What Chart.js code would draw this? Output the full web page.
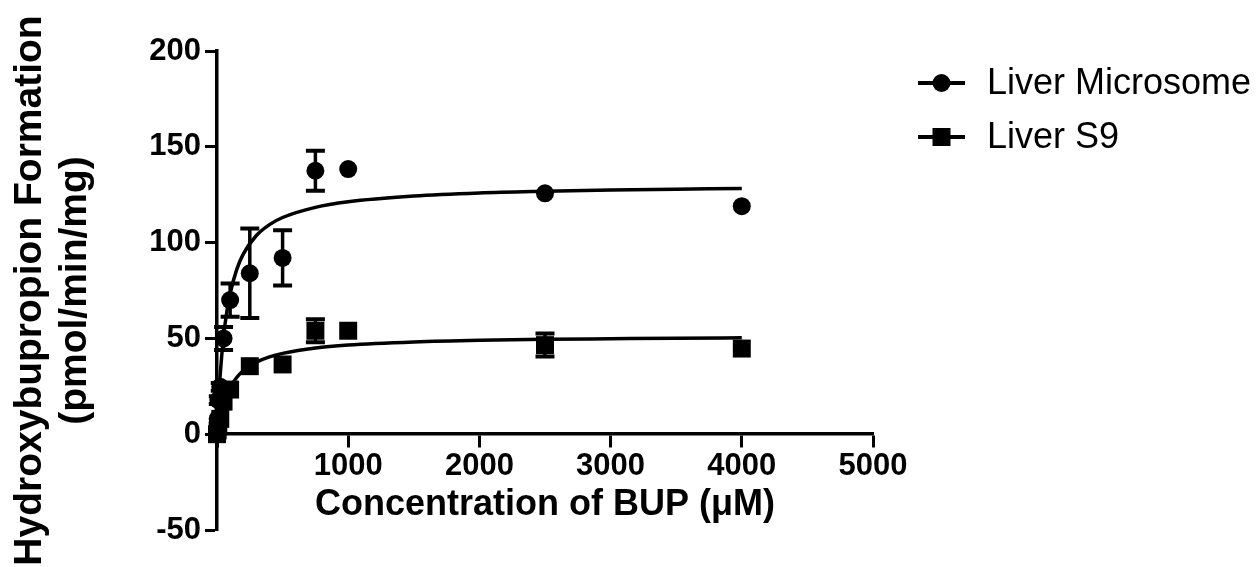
<!DOCTYPE html>
<html>
<head>
<meta charset="utf-8">
<script src="https://cdn.jsdelivr.net/npm/chart.js@4.4.0/dist/chart.umd.min.js"></script>
<style>
  html, body { margin: 0; padding: 0; background: #fff; }
</style>
</head>
<body>
<canvas id="grafico" width="1258" height="567"></canvas>
<script>
// --- datos ---
const concentraciones = [0, 5, 10, 25, 50, 100, 250, 500, 750, 1000, 2500, 4000];
const microsoma = [0, 8, 17.8, 24.7, 50, 70, 84, 92, 137.5, 138.4, 125.7, 119];
const microsomaErr = [0, 0, 2, 2, 6, 8.7, 23.3, 14.4, 10.5, 0, 0, 0];
const s9 = [0, 2, 4, 8, 17, 23.3, 35.5, 36.4, 54, 54, 46.5, 44.7];
const s9Err = [0, 0, 0, 0, 0, 0, 0, 0, 6, 0, 6, 0];

// curvas de ajuste (valores estimados sobre la imagen)
const curvaX = [0, 10, 25, 50, 75, 100, 150, 200, 300, 400, 500, 750, 1000, 1500, 2000, 2500, 3000, 3500, 4000];
const curvaMicrosoma = [0, 14.8, 31.6, 50.9, 64.0, 73.3, 85.9, 94.0, 103.7, 109.4, 113.1, 118.4, 121.3, 124.3, 125.9, 126.8, 127.5, 127.9, 128.3];
const curvaS9 = [0, 4.2, 9.4, 16.0, 20.7, 24.4, 29.6, 33.1, 37.6, 40.4, 42.2, 45.0, 46.5, 48.1, 49.0, 49.5, 49.8, 50.1, 50.3];

const ticksX = [0, 1000, 2000, 3000, 4000, 5000];
const ticksY = [-50, 0, 50, 100, 150, 200];

const etiquetas = ['Liver Microsome', 'Liver S9'];
const tituloX = 'Concentration of BUP (\u03bcM)';
const tituloY = ['Hydroxybupropion Formation', '(pmol/min/mg)'];

const negro = '#000000';
const fuente = "'Liberation Sans', Arial, Helvetica, sans-serif";

Chart.defaults.font.family = fuente;
Chart.defaults.color = negro;

const aPuntos = (xs, ys) => xs.map((x, i) => ({ x: x, y: ys[i] }));

// barras de error (media +/- DE)
const barrasError = {
    id: 'barrasError',
    afterDatasetsDraw(chart) {
        const { ctx, scales } = chart;
        const series = [microsomaErr, s9Err];
        ctx.save();
        ctx.strokeStyle = negro;
        series.forEach((errores, d) => {
            const datos = chart.data.datasets[d].data;
            datos.forEach((p, i) => {
                const e = errores[i];
                if (!e) return;
                const px = scales.x.getPixelForValue(p.x);
                const arriba = scales.y.getPixelForValue(p.y + e);
                const abajo = scales.y.getPixelForValue(p.y - e);
                ctx.lineWidth = 3.5;
                ctx.beginPath();
                ctx.moveTo(px, arriba);
                ctx.lineTo(px, abajo);
                ctx.stroke();
                ctx.lineWidth = 4;
                ctx.beginPath();
                ctx.moveTo(px - 9.5, arriba);
                ctx.lineTo(px + 9.5, arriba);
                ctx.moveTo(px - 9.5, abajo);
                ctx.lineTo(px + 9.5, abajo);
                ctx.stroke();
            });
        });
        ctx.restore();
    }
};

// leyenda estilo Prism: linea con simbolo
const leyenda = {
    id: 'leyenda',
    afterDraw(chart) {
        const { ctx } = chart;
        const filas = [
            { y: 83, estilo: 'circle' },
            { y: 137, estilo: 'rect' }
        ];
        ctx.save();
        ctx.fillStyle = negro;
        ctx.strokeStyle = negro;
        ctx.font = '36px ' + fuente;
        ctx.textBaseline = 'middle';
        filas.forEach((f, i) => {
            ctx.lineWidth = 4;
            ctx.beginPath();
            ctx.moveTo(918, f.y);
            ctx.lineTo(965, f.y);
            ctx.stroke();
            if (f.estilo === 'circle') {
                ctx.beginPath();
                ctx.arc(941.5, f.y, 9, 0, Math.PI * 2);
                ctx.fill();
            } else {
                ctx.fillRect(932.5, f.y - 9, 18, 18);
            }
            ctx.fillText(chart.data.datasets[i].label, 987, f.y + 1);
        });
        ctx.restore();
    }
};

new Chart(document.getElementById('grafico'), {
    type: 'scatter',
    data: {
        datasets: [
            {
                label: etiquetas[0],
                data: aPuntos(concentraciones, microsoma),
                pointStyle: 'circle',
                pointRadius: 9,
                backgroundColor: negro,
                borderWidth: 0,
                clip: false
            },
            {
                label: etiquetas[1],
                data: aPuntos(concentraciones, s9),
                pointStyle: 'rect',
                pointRadius: 12.7,
                backgroundColor: negro,
                borderWidth: 0,
                clip: false
            },
            {
                type: 'line',
                label: 'ajuste microsoma',
                data: aPuntos(curvaX, curvaMicrosoma),
                borderColor: negro,
                borderWidth: 3.5,
                pointRadius: 0,
                fill: false,
                cubicInterpolationMode: 'monotone'
            },
            {
                type: 'line',
                label: 'ajuste S9',
                data: aPuntos(curvaX, curvaS9),
                borderColor: negro,
                borderWidth: 3.5,
                pointRadius: 0,
                fill: false,
                cubicInterpolationMode: 'monotone'
            }
        ]
    },
    options: {
        responsive: false,
        animation: false,
        devicePixelRatio: 1,
        events: [],
        layout: { padding: { top: 51, right: 385, bottom: 37, left: 0 } },
        plugins: {
            legend: { display: false },
            tooltip: { enabled: false }
        },
        scales: {
            x: {
                type: 'linear',
                min: 0,
                max: 5000,
                position: { y: 0 },
                afterBuildTicks: (eje) => { eje.ticks = ticksX.map(v => ({ value: v })); },
                grid: { display: true, drawOnChartArea: false, tickLength: 12, tickWidth: 3, tickColor: negro },
                border: { display: true, width: 3.5, color: negro },
                ticks: {
                    padding: 4,
                    maxRotation: 0,
                    font: { size: 31, weight: 'bold', lineHeight: 1.05 },
                    callback: (v) => (v === 0 ? '' : v)
                },
                title: {
                    display: true,
                    text: tituloX,
                    padding: { top: 0, bottom: 0 },
                    font: { size: 36, weight: 'bold', lineHeight: 1 }
                }
            },
            y: {
                type: 'linear',
                min: -50,
                max: 200,
                afterBuildTicks: (eje) => { eje.ticks = ticksY.map(v => ({ value: v })); },
                afterFit: (eje) => { eje.width = 217; },
                grid: { display: true, drawOnChartArea: false, tickLength: 12, tickWidth: 3, tickColor: negro },
                border: { display: true, width: 3.5, color: negro },
                ticks: {
                    padding: 4,
                    font: { size: 31, weight: 'bold', lineHeight: 1.1 }
                },
                title: {
                    display: true,
                    text: tituloY,
                    padding: { top: 8, bottom: 0 },
                    font: { size: 39, weight: 'bold', lineHeight: 1.15 }
                }
            }
        }
    },
    plugins: [barrasError, leyenda]
});
</script>
</body>
</html>
